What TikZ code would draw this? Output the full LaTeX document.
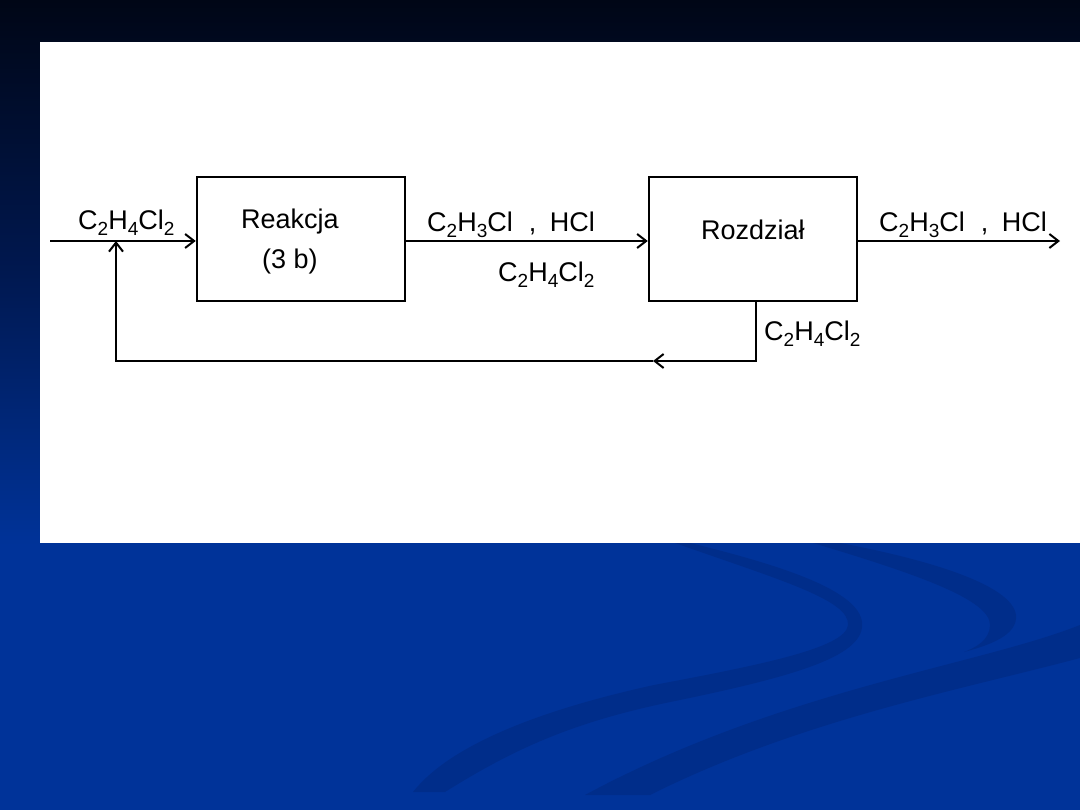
\documentclass[tikz,border=0pt]{standalone}
\usepackage{fontspec}
\setmainfont{Liberation Sans}
\usetikzlibrary{arrows.meta}
\newcommand\chs[1]{\raisebox{-0.22em}{\fontsize{19}{19}\selectfont #1}}
\definecolor{bgblue}{RGB}{0,51,153}
\definecolor{bgtop}{RGB}{0,6,22}
\definecolor{bgmid}{RGB}{0,24,80}
\definecolor{swoosh}{RGB}{0,45,138}
\tikzset{
  procbox/.style={draw=black, line width=2.5pt, minimum width=208pt, minimum height=124pt, inner sep=0pt},
  lbl/.style={inner sep=0pt, anchor=base west, font=\fontsize{27}{32}\selectfont},
  ctr/.style={inner sep=0pt, anchor=base, font=\fontsize{27}{32}\selectfont},
  flow/.style={line width=2pt, -{Straight Barb[length=9pt,width=14pt]}}
}
\begin{document}
\begin{tikzpicture}[x=1pt,y=-1pt]
\useasboundingbox (0,0) rectangle (1080,810);
% background
\fill[bgblue] (0,0) rectangle (1080,810);
\shade[top color=bgtop, bottom color=bgblue, middle color=bgmid] (0,0) rectangle (1080,545);
% swooshes
\fill[swoosh] (675,543) .. controls (780,580) and (850,600) .. (848,625)
  .. controls (846,648) and (760,665) .. (654,685)
  .. controls (540,710) and (450,745) .. (413,792) -- (445,792)
  .. controls (520,745) and (580,720) .. (680,700)
  .. controls (800,675) and (866,655) .. (862,622)
  .. controls (858,590) and (780,565) .. (690,543) -- cycle;
\fill[swoosh] (813,543) .. controls (920,575) and (990,600) .. (990,625)
  .. controls (990,640) and (975,648) .. (964,652)
  .. controls (990,645) and (1018,635) .. (1016,615)
  .. controls (1012,585) and (930,560) .. (840,543) -- cycle;
\fill[swoosh] (1080,625) .. controls (980,665) and (780,690) .. (585,795) -- (650,795)
  .. controls (800,720) and (960,690) .. (1080,658) -- cycle;
% white panel
\fill[white] (40,42) rectangle (1080,543);
% boxes
\node[procbox] (reak) at (301,239) {};
\node[procbox] (roz) at (753,239) {};
% texts
\node[ctr] (treak) at (290,229) {Reakcja};
\node[ctr] (t3b) at (290,269) {(3 b)};
\node[lbl] (troz) at (701,240) {Rozdział};
\node[lbl] (lin) at (78,230) {C\chs2H\chs4Cl\chs2};
\node[lbl] (lmid1) at (427,232) {C\chs2H\chs3Cl\hspace{16pt},\hspace{13.5pt}HCl};
\node[lbl] (lmid2) at (498,282) {C\chs2H\chs4Cl\chs2};
\node[lbl] (lout) at (879,232) {C\chs2H\chs3Cl\hspace{16pt},\hspace{13.5pt}HCl};
\node[lbl] (lrec) at (764,341) {C\chs2H\chs4Cl\chs2};
% connectors
\coordinate (in) at (50,241);
\coordinate (out) at (1060,241);
\coordinate (join) at (116,241);
\coordinate (rbot) at (756,301);
\coordinate (mid) at (653,361);
\draw[flow] (in) -- (in -| reak.west);
\draw[flow] (reak.east |- in) -- (roz.west |- in);
\draw[flow] (roz.east |- in) -- (out);
\draw[flow] (rbot) |- (mid);
\draw[flow] (mid) -| (join);
\end{tikzpicture}
\end{document}
